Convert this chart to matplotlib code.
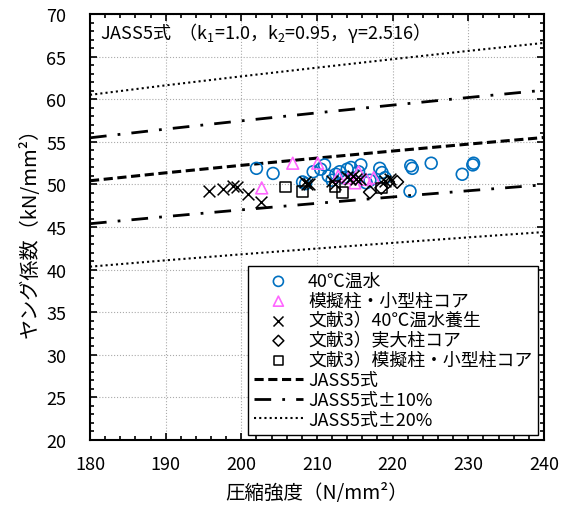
import numpy as np
import matplotlib
matplotlib.use("Agg")
import matplotlib.pyplot as plt
from matplotlib.ticker import MultipleLocator

plt.rcParams['font.family'] = ['Noto Sans CJK JP', 'DejaVu Sans']
plt.rcParams['mathtext.default'] = 'regular'

# ---------------------------------------------------------------------------#
# Data
# ---------------------------------------------------------------------------#
# 40℃温水
warm_x = [202.0, 204.2, 208.1, 208.5, 209.5, 210.5, 211.0, 211.5, 212.0, 212.5,
          213.0, 213.5, 214.0, 214.5, 215.5, 215.8, 216.5, 217.0, 218.3, 218.6,
          219.0, 222.4, 222.6, 222.3, 225.1, 229.2, 230.7, 230.6]
warm_y = [51.9, 51.3, 50.3, 50.1, 51.5, 51.8, 52.3, 51.0, 50.5, 51.2,
          51.5, 50.8, 51.8, 52.0, 51.5, 52.3, 50.2, 50.5, 51.9, 51.4,
          50.8, 52.2, 51.9, 49.2, 52.5, 51.2, 52.5, 52.3]

# 模擬柱・小型柱コア
mock_x = [202.7, 206.8, 210.1, 212.8, 214.2, 215.5, 216.5, 217.5, 215.0]
mock_y = [49.6, 52.5, 52.5, 51.0, 50.8, 51.5, 50.6, 50.8, 50.2]

# 文献3) 40℃温水養生
ref_warm_x = [195.7, 197.6, 198.9, 199.4, 200.9, 202.6, 208.4, 208.7, 209.0,
              212.0, 212.4, 214.0, 214.4, 214.8, 215.2, 215.7, 219.0, 219.6]
ref_warm_y = [49.2, 49.5, 49.8, 49.7, 48.9, 47.9, 50.3, 50.0, 50.1,
              50.4, 50.1, 50.9, 50.6, 51.0, 50.7, 50.6, 50.4, 50.6]

# 文献3) 実大柱コア
ref_full_x = [217.0, 218.5, 219.4, 220.6]
ref_full_y = [49.1, 49.6, 50.3, 50.3]

# 文献3) 模擬柱・小型柱コア
ref_mock_x = [205.8, 208.1, 212.4, 213.4, 218.5]
ref_mock_y = [49.7, 49.2, 49.8, 49.1, 49.6]

# JASS5式 curve (k1=1.0, k2=0.95, γ=2.516)
jass_x = [180, 190, 200, 210, 220, 230, 240]
jass_e = [50.44, 51.37, 52.25, 53.10, 53.93, 54.74, 55.52]

# ---------------------------------------------------------------------------#
# Plot
# ---------------------------------------------------------------------------#
fig = plt.figure(figsize=(5.66, 5.06), dpi=100)
ax = fig.add_axes([0.159, 0.1285, 0.802, 0.8415])

ms = 72
ax.scatter(warm_x, warm_y, s=ms, marker='o', facecolors='none',
           edgecolors='#0070C0', linewidths=1.2, label='40℃温水', zorder=3)
ax.scatter(mock_x, mock_y, s=ms, marker='^', facecolors='none',
           edgecolors='#FF66FF', linewidths=1.2, label='模擬柱・小型柱コア', zorder=3)
ax.scatter(ref_warm_x, ref_warm_y, s=ms, marker='x', color='black',
           linewidths=1.1, label='文献3）40℃温水養生', zorder=3)
ax.scatter(ref_full_x, ref_full_y, s=42, marker='D', facecolors='none',
           edgecolors='black', linewidths=1.1, label='文献3）実大柱コア', zorder=3)
ax.scatter(ref_mock_x, ref_mock_y, s=60, marker='s', facecolors='none',
           edgecolors='black', linewidths=1.1, label='文献3）模擬柱・小型柱コア', zorder=3)

jx = np.array(jass_x)
je = np.array(jass_e)
ax.plot(jx, je, color='black', lw=2.2, ls=(0, (3, 1.5)), label='JASS5式')
ax.plot(jx, je * 1.1, color='black', lw=2.0, ls=(0, (6, 4, 1, 4)), label='JASS5式±10%')
ax.plot(jx, je * 0.9, color='black', lw=2.0, ls=(0, (6, 4, 1, 4)))
ax.plot(jx, je * 1.2, color='black', lw=1.5, ls=(0, (1, 1.5)), label='JASS5式±20%')
ax.plot(jx, je * 0.8, color='black', lw=1.5, ls=(0, (1, 1.5)))

ax.set_xlim(180, 240)
ax.set_ylim(20, 70)
ax.xaxis.set_major_locator(MultipleLocator(10))
ax.xaxis.set_minor_locator(MultipleLocator(2))
ax.yaxis.set_major_locator(MultipleLocator(5))
ax.yaxis.set_minor_locator(MultipleLocator(1))
ax.tick_params(which='both', direction='in', top=True, right=True,
               labelsize=13, width=1.2)
ax.tick_params(which='major', length=5)
ax.tick_params(which='minor', length=3)
ax.tick_params(axis='x', pad=11)
ax.tick_params(axis='y', pad=17)
for sp in ax.spines.values():
    sp.set_linewidth(1.5)
ax.grid(True, which='major', color='#aaaaaa', ls=':', lw=0.8)

ax.set_xlabel('圧縮強度（N/mm²）', fontsize=14, labelpad=6)
ax.set_ylabel('ヤング係数（kN/mm²）', fontsize=14.5, labelpad=4)

ax.text(0.022, 0.958, r'JASS5式  （k$_{1}$=1.0，k$_{2}$=0.95，γ=2.516）',
        transform=ax.transAxes, fontsize=13, va='center', ha='left')

leg = ax.legend(loc='lower right', bbox_to_anchor=(0.988, 0.012), borderaxespad=0,
                fontsize=12.9, labelspacing=0.1, handlelength=2.7, handletextpad=0.3,
                borderpad=0.35, markerscale=0.85, fancybox=False,
                edgecolor='black', framealpha=1)
leg.get_frame().set_linewidth(1.0)

fig.savefig('out.png', dpi=100)
